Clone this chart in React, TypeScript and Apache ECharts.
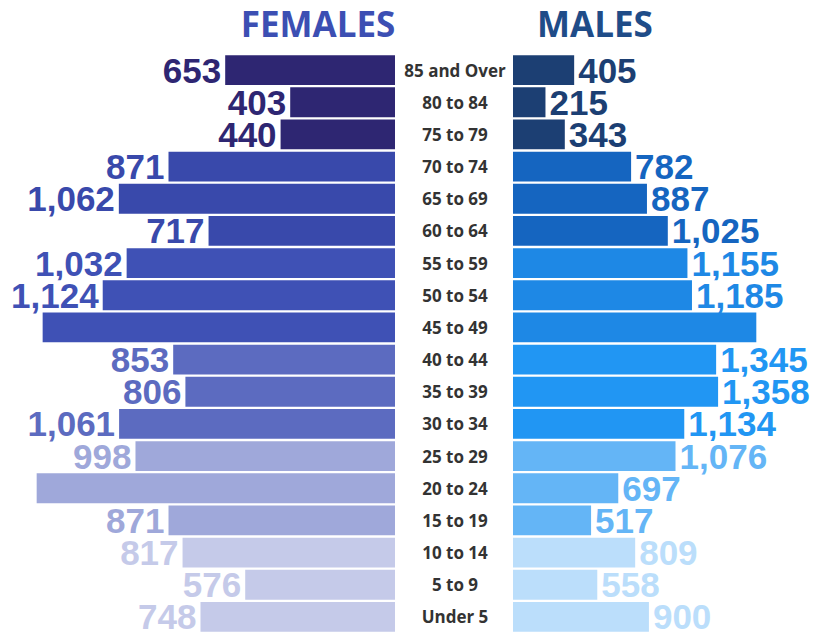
import React, { useEffect, useRef } from "react";
import * as echarts from "echarts";

const categories = [
  "85 and Over", "80 to 84", "75 to 79", "70 to 74", "65 to 69", "60 to 64",
  "55 to 59", "50 to 54", "45 to 49", "40 to 44", "35 to 39", "30 to 34",
  "25 to 29", "20 to 24", "15 to 19", "10 to 14", "5 to 9", "Under 5",
];
const females = [653, 403, 440, 871, 1062, 717, 1032, 1124, 1355, 853, 806, 1061, 998, 1378, 871, 817, 576, 748];
const males = [405, 215, 343, 782, 887, 1025, 1155, 1185, 1611, 1345, 1358, 1134, 1076, 697, 517, 809, 558, 900];
const hiddenFemaleLabels = ["45 to 49", "20 to 24"];
const hiddenMaleLabels = ["45 to 49"];

const femalePalette = ["#2e2672", "#3949ab", "#3f51b5", "#5c6bc0", "#9fa8da", "#c5cae9"];
const malePalette = ["#1c3f73", "#1565c0", "#1e88e5", "#2196f3", "#64b5f6", "#bbdefb"];

const fmt = (v: number) => v.toLocaleString("en-US");

export default function App() {
  const ref = useRef<HTMLDivElement>(null);
  useEffect(() => {
    if (!ref.current) return;
    const chart = echarts.init(ref.current, null, { renderer: "svg" });
    const labelBase = {
      fontFamily: "Liberation Sans, Arial, sans-serif",
      fontWeight: "bold" as const,
      fontSize: 35,
      lineHeight: 30,
      backgroundColor: "#ffffff",
      padding: [0, 2, 0, 2],
    };
    const femaleData = females.map((v, i) => {
      const c = femalePalette[Math.floor(i / 3)];
      return {
        value: v,
        itemStyle: { color: c },
        label: {
          show: !hiddenFemaleLabels.includes(categories[i]),
          color: c,
        },
      };
    });
    const maleData = males.map((v, i) => {
      const c = malePalette[Math.floor(i / 3)];
      return {
        value: v,
        itemStyle: { color: c },
        label: {
          show: !hiddenMaleLabels.includes(categories[i]),
          color: c,
        },
      };
    });
    chart.setOption({
      animation: false,
      backgroundColor: "#ffffff",
      grid: [
        { left: 0, top: 54, width: 395, height: 580 },
        { left: 513, top: 54, width: 301, height: 580 },
      ],
      xAxis: [
        { gridIndex: 0, type: "value", inverse: true, min: 0, max: 1519, show: false },
        { gridIndex: 1, type: "value", min: 0, max: 1993, show: false },
      ],
      yAxis: [
        { gridIndex: 0, type: "category", data: categories, inverse: true, show: false },
        {
          gridIndex: 1,
          type: "category",
          data: categories,
          inverse: true,
          axisLine: { show: false },
          axisTick: { show: false },
          axisLabel: {
            margin: 58,
            align: "center",
            fontFamily: "Open Sans",
            fontWeight: "bold",
            fontSize: 17,
            color: "#333333",
          },
        },
      ],
      graphic: [
        {
          type: "text",
          x: 318,
          y: 23,
          style: {
            text: "FEMALES",
            fontFamily: "Open Sans",
            fontWeight: "bold",
            fontSize: 35,
            fill: "#3c4fb3",
            textAlign: "center",
            textVerticalAlign: "middle",
          },
        },
        {
          type: "text",
          x: 595,
          y: 23,
          style: {
            text: "MALES",
            fontFamily: "Open Sans",
            fontWeight: "bold",
            fontSize: 35,
            fill: "#1f4c88",
            textAlign: "center",
            textVerticalAlign: "middle",
          },
        },
      ],
      series: [
        {
          type: "bar",
          xAxisIndex: 0,
          yAxisIndex: 0,
          data: femaleData,
          barCategoryGap: "7%",
          label: {
            ...labelBase,
            position: "left",
            distance: 2,
            formatter: (p: any) => fmt(p.value),
          },
        },
        {
          type: "bar",
          xAxisIndex: 1,
          yAxisIndex: 1,
          data: maleData,
          barCategoryGap: "7%",
          label: {
            ...labelBase,
            position: "right",
            distance: 2,
            formatter: (p: any) => fmt(p.value),
          },
        },
      ],
    });
    return () => chart.dispose();
  }, []);
  return (
    <div
      ref={ref}
      style={{ position: "absolute", left: 0, top: 0, width: 814, height: 633 }}
    />
  );
}
